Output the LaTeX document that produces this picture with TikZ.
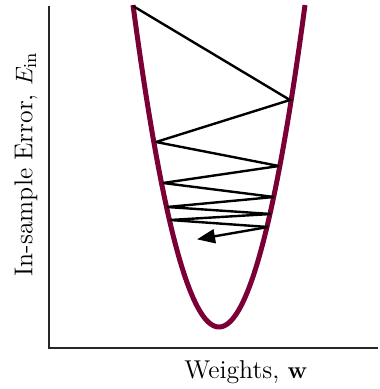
\documentclass[tikz,border=0pt]{standalone}
\usetikzlibrary{arrows.meta}
\definecolor{curvecol}{RGB}{122,0,54}
\begin{document}
\begin{tikzpicture}[x=0.5pt,y=-0.5pt,
  axisline/.style={draw=black!85, line width=0.6pt},
  curveline/.style={draw=curvecol, line width=2.5pt},
  zigline/.style={draw=black, line width=1.2pt, line join=miter, miter limit=3},
  lbl/.style={font=\fontsize{12.9}{15}\selectfont, inner sep=0pt}]
\useasboundingbox (0,0) rectangle (379,389);
\coordinate (ytop) at (49,6);
\coordinate (origin) at (49,348);
\coordinate (xend) at (378,348);
\draw[axisline] (ytop) -- (origin) -- (xend);
\draw[curveline] plot[domain=133:305, samples=120] (\x, {327 - 0.04354*(\x-219)^2});
\coordinate (p0) at (133,6);
\coordinate (p1) at (290,100);
\coordinate (p2) at (156,142);
\coordinate (p3) at (279,166);
\coordinate (p4) at (163,183);
\coordinate (p5) at (274,197);
\coordinate (p6) at (167,207);
\coordinate (p7) at (271,214);
\coordinate (p8) at (170,220);
\coordinate (p9) at (268,227);
\coordinate (p10) at (199,239);
\draw[zigline] (p0) -- (p1) -- (p2) -- (p3) -- (p4) -- (p5) -- (p6) -- (p7) -- (p8) -- (p9);
\draw[zigline, -{Triangle[length=9pt, width=7pt]}, shorten >=-1pt] (p9) -- (p10);
\node[lbl, rotate=90] (ylab) at (26,164) {In-sample Error, $E_{\mathrm{in}}$};
\node[lbl] (xlab) at (246,372) {Weights, $\mathbf{w}$};
\end{tikzpicture}
\end{document}
